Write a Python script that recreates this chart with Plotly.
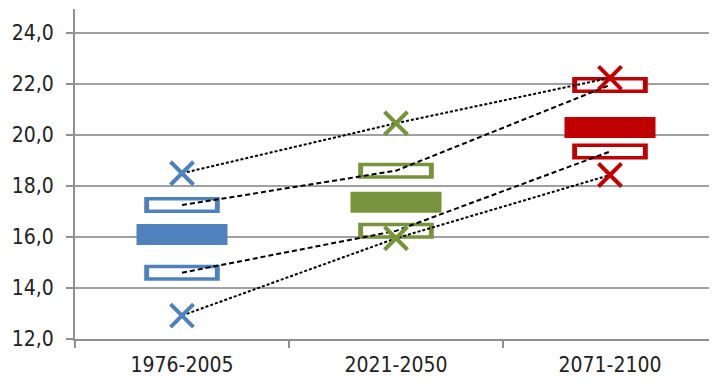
import plotly.graph_objects as go

periods = ["1976-2005", "2021-2050", "2071-2100"]
max_vals = [18.5, 20.46, 22.24]
upper_vals = [17.25, 18.6, 21.96]
mean_vals = [16.1, 17.36, 20.29]
lower_vals = [14.6, 16.24, 19.35]
min_vals = [12.92, 15.95, 18.43]
colors = ["#4F81BD", "#77933C", "#C00000"]
y_ticks = [12, 14, 16, 18, 20, 22, 24]

fig = go.Figure()

# filled mean boxes
fig.add_trace(go.Scatter(
    x=periods, y=mean_vals, mode="markers",
    marker=dict(symbol="line-ew", size=65, color=colors,
                line=dict(width=21, color=colors)),
    showlegend=False, hoverinfo="skip"))

# hollow boxes: outer colored + inner white
for vals in (upper_vals, lower_vals):
    fig.add_trace(go.Scatter(
        x=periods, y=vals, mode="markers",
        marker=dict(symbol="line-ew", size=54, color=colors,
                    line=dict(width=16, color=colors)),
        showlegend=False, hoverinfo="skip"))
    fig.add_trace(go.Scatter(
        x=periods, y=vals, mode="markers",
        marker=dict(symbol="line-ew", size=47, color="white",
                    line=dict(width=9, color="white")),
        showlegend=False, hoverinfo="skip"))

# dashed connecting lines
for vals, dash in ((max_vals, "3px,2px"), (upper_vals, "5px,3px"),
                   (lower_vals, "5px,3px"), (min_vals, "3px,2px")):
    fig.add_trace(go.Scatter(
        x=periods, y=vals, mode="lines",
        line=dict(color="black", width=2, dash=dash),
        showlegend=False, hoverinfo="skip"))

# X markers for max and min
for vals in (max_vals, min_vals):
    fig.add_trace(go.Scatter(
        x=periods, y=vals, mode="markers",
        marker=dict(symbol="x-thin", size=23, color=colors,
                    line=dict(width=4, color=colors)),
        showlegend=False, hoverinfo="skip"))

fig.update_layout(
    width=717, height=388,
    margin=dict(l=67, r=8, t=1, b=57),
    paper_bgcolor="white", plot_bgcolor="white",
    separators=",.",
    font=dict(family="DejaVu Sans Condensed, sans-serif", size=21, color="#222222"),
    xaxis=dict(type="category", tickson="boundaries", ticks="outside", ticklen=7,
               tickcolor="#909090", tickwidth=2, showgrid=False,
               showline=True, linecolor="#909090", linewidth=2,
               range=[-0.5, 2.5], fixedrange=True, automargin=False,
               ticklabelstandoff=6),
    yaxis=dict(range=[12, 24.94], tickvals=y_ticks, tickformat=".1f",
               ticks="outside", ticklen=7, tickcolor="#909090", tickwidth=2,
               showgrid=True, gridcolor="#A0A0A0", gridwidth=2,
               showline=True, linecolor="#909090", linewidth=2,
               zeroline=False, ticklabelstandoff=8, automargin=False),
)

fig.write_html("out.html")
